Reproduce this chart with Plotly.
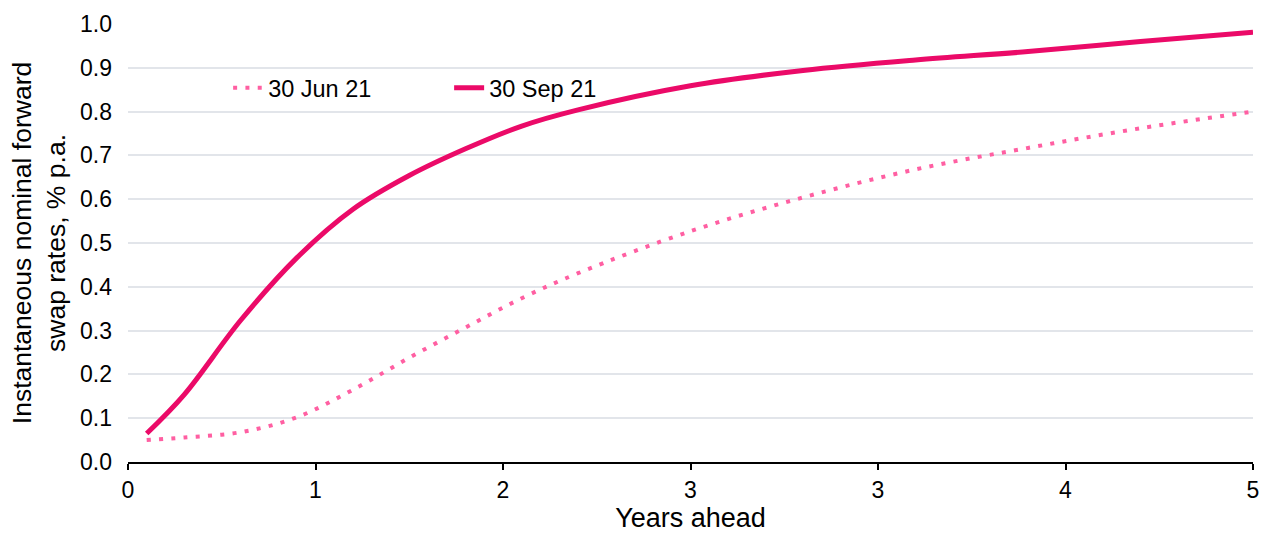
import plotly.graph_objects as go

years = [0.083, 0.25, 0.5, 0.75, 1.0, 1.25, 1.5, 1.75, 2.0, 2.5, 3.0, 3.5, 4.0, 4.5, 5.0]
jun21 = [0.050, 0.056, 0.068, 0.102, 0.165, 0.238, 0.307, 0.374, 0.431, 0.527, 0.604, 0.668, 0.717, 0.762, 0.800]
sep21 = [0.065, 0.154, 0.323, 0.466, 0.577, 0.654, 0.715, 0.767, 0.804, 0.859, 0.894, 0.918, 0.937, 0.960, 0.981]

xtick_vals = [0, 5/6, 10/6, 2.5, 20/6, 25/6, 5]
xtick_text = ["0", "1", "2", "3", "3", "4", "5"]

fig = go.Figure()
fig.add_trace(go.Scatter(x=years, y=jun21, mode="lines", name="30 Jun 21",
                         line=dict(color="#FF5FA2", width=4, dash="4px,8.3px", shape="spline")))
fig.add_trace(go.Scatter(x=years, y=sep21, mode="lines", name="30 Sep 21",
                         line=dict(color="#EB0A68", width=5, shape="spline")))

fig.update_layout(
    width=1269, height=533,
    margin=dict(l=128, r=16, t=24, b=71),
    paper_bgcolor="white", plot_bgcolor="white",
    font=dict(family="Liberation Sans, Arial, sans-serif", size=23, color="black"),
    legend=dict(orientation="h", x=0.089, y=0.854, xanchor="left", yanchor="middle",
                bgcolor="rgba(0,0,0,0)", font=dict(size=23.5), entrywidth=176),
    xaxis=dict(range=[0, 5], tickvals=xtick_vals, ticktext=xtick_text,
               showline=True, linecolor="black", linewidth=2,
               ticks="outside", ticklen=6, tickwidth=1.5, tickcolor="black",
               showgrid=False, zeroline=False, tickfont=dict(size=23), automargin=False,
               title=dict(text="Years ahead", font=dict(size=27), standoff=6)),
    yaxis=dict(range=[0, 1.0], dtick=0.1, tickformat=".1f",
               showgrid=True, gridcolor="#E2E5EA", gridwidth=1.5,
               zeroline=False, showline=False, ticks="", tickfont=dict(size=23),
               ticklabelstandoff=15, automargin=False,
               title=dict(text="Instantaneous nominal forward<br>swap rates, % p.a.",
                          font=dict(size=26.5), standoff=6)),
)

fig.write_html("out.html", config={"displayModeBar": False},
               post_script="document.body.style.margin='0';document.body.style.padding='0';")
